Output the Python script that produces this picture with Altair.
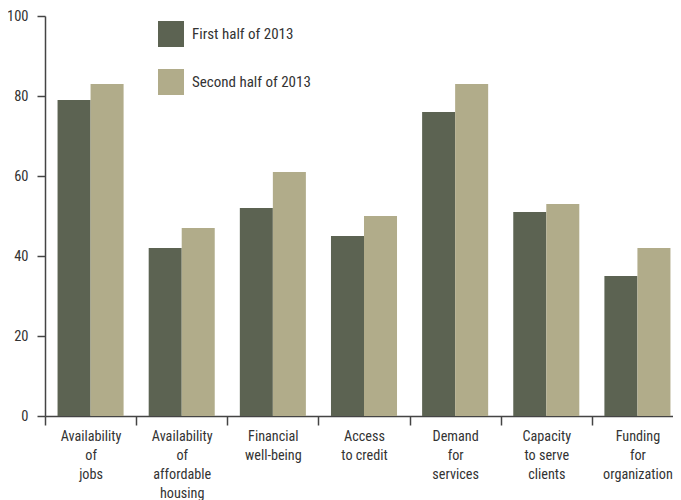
import altair as alt
import pandas as pd

categories = [
    "Availability|of|jobs",
    "Availability|of|affordable|housing",
    "Financial|well-being",
    "Access|to credit",
    "Demand|for|services",
    "Capacity|to serve|clients",
    "Funding|for|organization",
]
series_names = ["First half of 2013", "Second half of 2013"]
first_half = [79, 42, 52, 45, 76, 51, 35]
second_half = [83, 47, 61, 50, 83, 53, 42]
y_ticks = [0, 20, 40, 60, 80, 100]
colors = ["#5c6352", "#b1ac8a"]

rows = []
for c, a, b in zip(categories, first_half, second_half):
    rows.append({"category": c, "series": series_names[0], "value": a})
    rows.append({"category": c, "series": series_names[1], "value": b})
df = pd.DataFrame(rows)

FONT = "Liberation Sans Narrow, Roboto Condensed, DejaVu Sans Condensed, sans-serif"

chart = alt.Chart(df).mark_bar().encode(
    x=alt.X(
        "category:N",
        sort=categories,
        scale=alt.Scale(paddingInner=0, paddingOuter=0, range=[0, 638]),
        axis=alt.Axis(
            title=None,
            labelAngle=0,
            labelExpr="split(datum.label, '|')",
            labelLineHeight=19,
            labelBaseline="top",
            labelPadding=4,
            tickBand="extent",
            tickSize=9,
            labelFontSize=14.2,
            labelFont=FONT,
            labelColor="#333333",
            domainColor="#444444",
            tickColor="#444444",
            domainWidth=1.5,
            tickWidth=1.5,
        ),
    ),
    xOffset=alt.XOffset(
        "series:N",
        sort=series_names,
        scale=alt.Scale(paddingInner=0, paddingOuter=0.38),
    ),
    y=alt.Y(
        "value:Q",
        scale=alt.Scale(domain=[0, 100], nice=False),
        axis=alt.Axis(
            title=None,
            values=y_ticks,
            grid=False,
            tickSize=8,
            labelPadding=9,
            labelFontSize=14.5,
            labelFont=FONT,
            labelColor="#333333",
            domainColor="#444444",
            tickColor="#444444",
            domainWidth=1.5,
            tickWidth=1.5,
        ),
    ),
    color=alt.Color(
        "series:N",
        sort=series_names,
        scale=alt.Scale(domain=series_names, range=colors),
        legend=alt.Legend(
            title=None,
            orient="none",
            legendX=113,
            legendY=5,
            symbolType="square",
            symbolSize=676,
            symbolStrokeWidth=0,
            rowPadding=22,
            labelOffset=8,
            labelFontSize=15,
            labelFont=FONT,
            labelColor="#333333",
        ),
    ),
).properties(
    width=628,
    height=400,
    autosize=alt.AutoSizeParams(type="none"),
    padding={"left": 37, "top": 8, "right": 0, "bottom": 84},
).configure_view(stroke=None)

chart.save("out.html", embed_options={"renderer": "svg", "actions": False})
